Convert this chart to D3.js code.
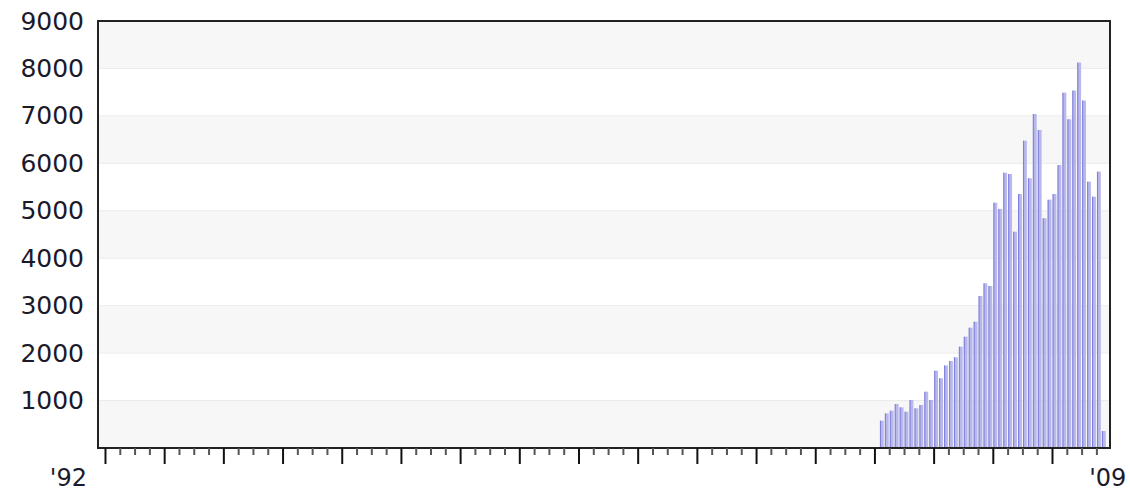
<!DOCTYPE html>
<html><head><meta charset="utf-8">
<script src="https://cdn.jsdelivr.net/npm/d3@7/dist/d3.min.js"></script>
<style>
html,body{margin:0;padding:0;background:#fff;}
svg{display:block;}
text{font-family:"DejaVu Sans",Verdana,sans-serif;}
</style></head>
<body><svg id="c" width="1130" height="493"></svg>
<script>
const months = ["2005-02","2005-03","2005-04","2005-05","2005-06","2005-07","2005-08","2005-09","2005-10","2005-11","2005-12",
"2006-01","2006-02","2006-03","2006-04","2006-05","2006-06","2006-07","2006-08","2006-09","2006-10","2006-11","2006-12",
"2007-01","2007-02","2007-03","2007-04","2007-05","2007-06","2007-07","2007-08","2007-09","2007-10","2007-11","2007-12",
"2008-01","2008-02","2008-03","2008-04","2008-05","2008-06","2008-07","2008-08","2008-09","2008-10","2008-11"];
const values = [575,730,786,927,857,765,1012,836,906,1187,1012,
1630,1468,1740,1834,1911,2135,2346,2536,2662,3204,3471,3415,
5171,5040,5802,5775,4560,5354,6478,5685,7041,6703,4842,5235,
5354,5965,7490,6928,7533,8123,7322,5614,5298,5825,358];
const yTicks = [1000,2000,3000,4000,5000,6000,7000,8000,9000];
const yearTicks = [1992,1993,1994,1995,1996,1997,1998,1999,2000,2001,2002,2003,2004,2005,2006,2007,2008];
const endLabels = [{year:1992,label:"'92"},{year:2009,label:"'09"}];

const L=98,R=1110,T=21,B=448;
const svg=d3.select("#c");
const x=d3.scaleLinear().domain([1991.882,2008.98]).range([L,R]);
const y=d3.scaleLinear().domain([0,9000]).range([B,T]);
const toYear=s=>{const [a,b]=s.split("-").map(Number);return a+(b-1)/12;};
const mw=x(1992+1/12)-x(1992);

// bands
const bands=d3.range(0,9000,1000);
svg.append("g").selectAll("rect").data(bands).join("rect")
  .attr("x",L).attr("width",R-L)
  .attr("y",d=>y(d+1000)).attr("height",d=>y(d)-y(d+1000))
  .attr("fill",(d,i)=>i%2===0?"#f7f7f7":"#ffffff");
svg.append("g").selectAll("line").data(yTicks.slice(0,-1)).join("line")
  .attr("x1",L).attr("x2",R).attr("y1",d=>y(d)).attr("y2",d=>y(d))
  .attr("stroke","#ebebeb").attr("stroke-width",1);

// bars
const g=svg.append("g");
g.selectAll("rect").data(values).join("rect")
  .attr("x",(d,i)=>x(toYear(months[i]))+0.6)
  .attr("width",mw-1.1)
  .attr("y",d=>y(d)).attr("height",d=>B-y(d))
  .attr("fill","#b8b8ea");
g.selectAll("line").data(values).join("line")
  .attr("x1",(d,i)=>x(toYear(months[i]))+1.1).attr("x2",(d,i)=>x(toYear(months[i]))+1.1)
  .attr("y1",d=>y(d)).attr("y2",B)
  .attr("stroke","#8080dd").attr("stroke-width",1.1);

// frame
svg.append("rect").attr("x",L).attr("y",T).attr("width",R-L).attr("height",B-T)
  .attr("fill","none").attr("stroke","#222").attr("stroke-width",2);

// y labels
const yAxis=d3.axisLeft(y).tickValues(yTicks).tickSize(0).tickPadding(14).tickFormat(d3.format("d"));
const ya=svg.append("g").attr("transform",`translate(${L},0)`).call(yAxis);
ya.select(".domain").remove();
ya.selectAll("text").attr("font-size",25).attr("fill","#1a1a2a").style("font-family","DejaVu Sans");

// x ticks
const minor=[];
yearTicks.forEach(yr=>{[0.25,0.5,0.75].forEach(q=>minor.push(yr+q));});
const xMinor=d3.axisBottom(x).tickValues(minor).tickSize(7).tickFormat("");
const xm=svg.append("g").attr("transform",`translate(0,${B})`).call(xMinor);
xm.select(".domain").remove();
xm.selectAll("line").attr("stroke","#555").attr("stroke-width",2);
const xMajor=d3.axisBottom(x).tickValues(yearTicks).tickSize(16).tickFormat("");
const xM=svg.append("g").attr("transform",`translate(0,${B})`).call(xMajor);
xM.select(".domain").remove();
xM.selectAll("line").attr("stroke","#111").attr("stroke-width",2);

svg.append("g").selectAll("text").data(endLabels).join("text")
  .attr("x",d=>d.year===1992?x(d.year)-18:x(d.year)-22)
  .attr("y",486)
  .attr("text-anchor",d=>d.year===1992?"end":"start")
  .attr("font-size",24).attr("fill","#1a1a2a")
  .text(d=>d.label);
</script></body></html>
